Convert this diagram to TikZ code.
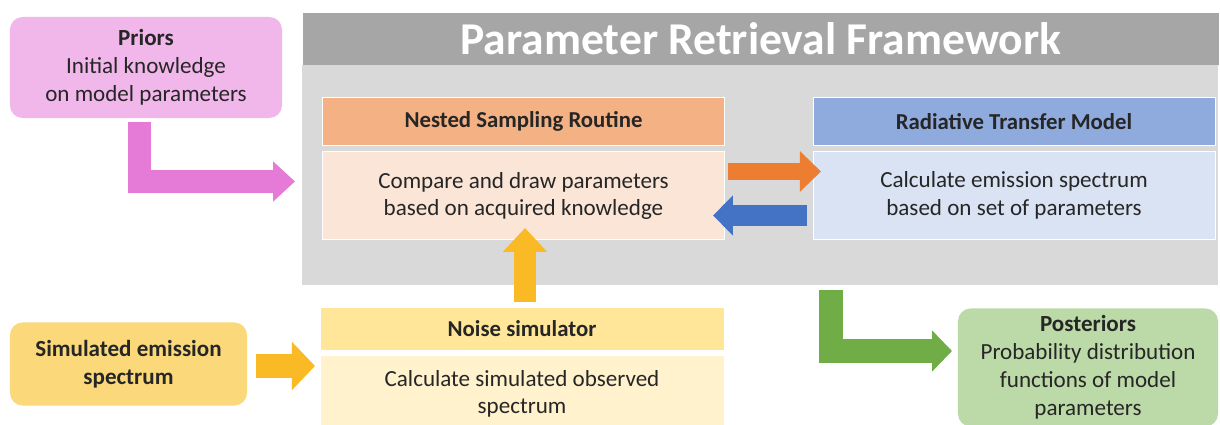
\documentclass[tikz,border=0pt]{standalone}
\usepackage{fontspec}
\setmainfont{Carlito}
\usetikzlibrary{arrows.meta,positioning}
\definecolor{inkgray}{RGB}{38,38,38}
\definecolor{titlegray}{RGB}{166,166,166}
\definecolor{panelgray}{RGB}{217,217,217}
\definecolor{priorpink}{RGB}{241,183,234}
\definecolor{arrowpink}{RGB}{229,122,215}
\definecolor{nshead}{RGB}{244,177,131}
\definecolor{nsbody}{RGB}{251,229,214}
\definecolor{rthead}{RGB}{143,170,220}
\definecolor{rtbody}{RGB}{218,227,243}
\definecolor{arroworange}{RGB}{237,125,49}
\definecolor{arrowblue}{RGB}{68,114,196}
\definecolor{arrowyellow}{RGB}{250,186,38}
\definecolor{noisehead}{RGB}{255,230,153}
\definecolor{noisebody}{RGB}{255,242,204}
\definecolor{simyellow}{RGB}{251,217,122}
\definecolor{arrowgreen}{RGB}{112,173,71}
\definecolor{postgreen}{RGB}{188,217,168}
\tikzset{
  headbar/.style={
    rectangle,
    draw=white,
    line width=0.6pt,
    align=center,
    text=inkgray,
    minimum width=10.05cm,
    minimum height=1.2cm,
    font=\fontsize{16.2}{19.5}\selectfont\bfseries
  },
  bodybox/.style={
    rectangle,
    draw=white,
    line width=0.6pt,
    align=center,
    text=inkgray,
    minimum width=10.05cm,
    minimum height=2.2cm,
    font=\fontsize{16.4}{19.6}\selectfont
  },
  infobox/.style={
    rectangle,
    rounded corners=9pt,
    align=center,
    text=inkgray,
    font=\fontsize{16.4}{19.8}\selectfont
  },
  blockarrow/.style={
    line width=#1,
    line join=miter,
    -{Triangle[length=15pt,width=28pt]}
  },
  blockarrow/.default=16pt
}

\begin{document}
\begin{tikzpicture}[x=0.025cm, y=-0.025cm]
    \useasboundingbox (0,0) rectangle (1220,425);

    % framework panel with its title bar
    \node[rectangle, fill=panelgray, minimum width=22.9cm, minimum height=5.5cm] (frame) at (760,175) {};
    \node[rectangle, fill=titlegray, minimum width=22.9cm, minimum height=1.3cm,
          text=white, font=\fontsize{32.4}{36}\selectfont\bfseries] (title) at (761,39) {Parameter Retrieval Framework};

    \node[headbar, fill=nshead] (nshead) at (523.5,121) {Nested Sampling Routine};
    \node[bodybox, fill=nsbody, below=0.15cm of nshead] (nsbody) {Compare and draw parameters\\based on acquired knowledge};

    \node[headbar, fill=rthead] (rthead) at (1014,121.5) {Radiative Transfer Model};
    \node[bodybox, fill=rtbody, below=0.12cm of rthead] (rtbody) {Calculate emission spectrum\\based on set of parameters};

    \node[headbar, fill=noisehead, minimum width=10.1cm, minimum height=1.075cm] (noisehead) at (522,328.5) {Noise simulator};
    \node[bodybox, fill=noisebody, minimum width=10.1cm, minimum height=1.9cm, below=0.12cm of noisehead] (noisebody) {Calculate simulated observed\\spectrum};

    \node[infobox, fill=priorpink, minimum width=6.8cm, minimum height=2.525cm] (priors) at (146,67.5)
        {\textbf{Priors}\\Initial knowledge\\on model parameters};
    \node[infobox, fill=simyellow, minimum width=5.925cm, minimum height=2.075cm, font=\fontsize{16.4}{19.8}\selectfont\bfseries] (sim) at (128.5,364)
        {Simulated emission\\spectrum};
    \node[infobox, fill=postgreen, minimum width=6.5cm, minimum height=2.95cm] (post) at (1088,367.5)
        {\textbf{Posteriors}\\Probability distribution\\functions of model\\parameters};

    % arrow ends
    \coordinate (priorsout) at (139.5,122);
    \coordinate (frameinlet) at (295,181.5);
    \coordinate (nsout) at (728,171.5);
    \coordinate (rtin) at (821,171.5);
    \coordinate (rtout) at (807,215.5);
    \coordinate (nsin) at (713,215.5);
    \coordinate (noiseout) at (525,302);
    \coordinate (nsbottom) at (525,228);
    \coordinate (simout) at (256,366);
    \coordinate (noisein) at (315,366);
    \coordinate (frameoutlet) at (831,290);
    \coordinate (postin) at (952,351);

    \draw[blockarrow=17pt, arrowpink, -{Triangle[length=15.6pt,width=27.7pt]}] (priorsout) |- (frameinlet);
    \draw[blockarrow=12pt, arroworange] (nsout) -- (rtin);
    \draw[blockarrow=15pt, arrowblue, -{Triangle[length=14.2pt,width=27.7pt]}] (rtout) -- (nsin);
    \draw[blockarrow=15.6pt, arrowyellow, -{Triangle[length=17pt,width=30.6pt]}] (noiseout) -- (nsbottom);
    \draw[blockarrow=17pt, arrowyellow, -{Triangle[length=16.4pt,width=33.4pt]}] (simout) -- (noisein);
    \draw[blockarrow=16.4pt, arrowgreen, -{Triangle[length=14.2pt,width=28.5pt]}] (frameoutlet) |- (postin);
  \end{tikzpicture}
\end{document}
